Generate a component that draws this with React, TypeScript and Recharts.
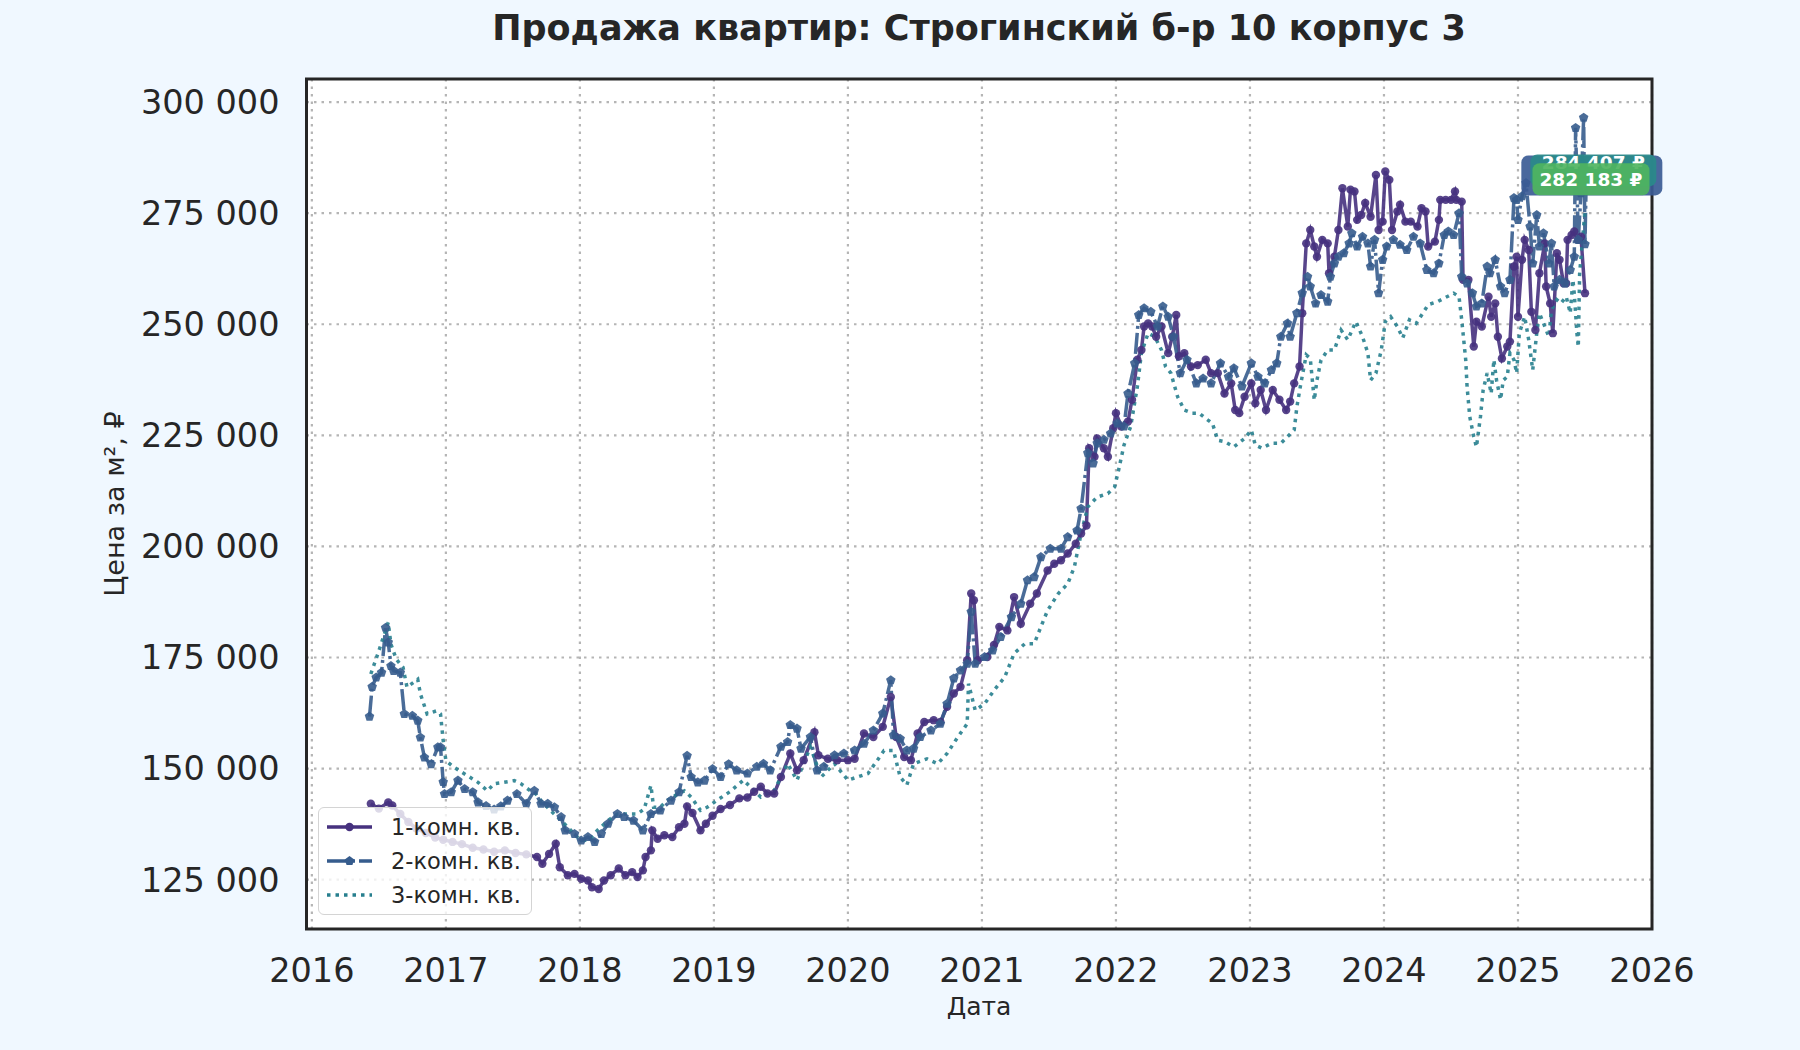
import {
  LineChart,
  Line,
  XAxis,
  YAxis,
  CartesianGrid,
  ReferenceArea,
  ReferenceDot,
} from "recharts";

// [decimal year, price per m²]
const ROOM1: [number, number][] = [
  [2016.44, 142100], [2016.5, 141000], [2016.57, 142400], [2016.6, 141700], [2016.66, 139800], [2016.72, 138000], [2016.78, 136500], [2016.85, 135500], [2016.92, 134500], [2016.98, 134000],
  [2017.05, 133500], [2017.12, 133000], [2017.2, 132200], [2017.28, 131800], [2017.36, 131300], [2017.44, 131600], [2017.52, 131000], [2017.6, 130700], [2017.68, 130100], [2017.72, 128600], [2017.77, 130800], [2017.82, 133100], [2017.85, 127800], [2017.91, 126000], [2017.96, 126300],
  [2018.01, 125200], [2018.06, 124800], [2018.09, 123300], [2018.14, 122900], [2018.18, 124800], [2018.23, 126000], [2018.29, 127500], [2018.34, 126000], [2018.39, 126700], [2018.43, 125600], [2018.47, 127100], [2018.49, 130100], [2018.53, 131600], [2018.54, 136100], [2018.58, 134200], [2018.63, 135000], [2018.69, 134600], [2018.74, 136800], [2018.78, 137600], [2018.8, 141500], [2018.84, 140000], [2018.9, 136100], [2018.94, 137600], [2018.99, 139400],
  [2019.05, 140900], [2019.12, 141800], [2019.19, 143300], [2019.25, 143500], [2019.3, 144800], [2019.35, 145900], [2019.4, 144400], [2019.45, 144400], [2019.5, 148100], [2019.57, 153400], [2019.62, 149600], [2019.67, 151900], [2019.75, 158200], [2019.78, 153000], [2019.85, 152200], [2019.92, 151900],
  [2020.0, 151900], [2020.05, 152200], [2020.12, 157900], [2020.19, 157100], [2020.26, 159400], [2020.32, 166100], [2020.36, 157100], [2020.42, 152600], [2020.47, 151900], [2020.52, 157900], [2020.57, 160500], [2020.64, 160900], [2020.69, 160500], [2020.74, 163900], [2020.79, 166900], [2020.84, 168400], [2020.89, 174400], [2020.92, 189400], [2020.94, 187900], [2020.97, 174400],
  [2021.04, 175100], [2021.09, 177800], [2021.13, 181900], [2021.19, 181100], [2021.24, 188600], [2021.29, 182600], [2021.36, 187100], [2021.41, 189400], [2021.49, 194600], [2021.54, 196100], [2021.59, 196900], [2021.64, 198400], [2021.7, 200600], [2021.74, 202900], [2021.78, 204700], [2021.8, 222100], [2021.84, 220200], [2021.86, 224300], [2021.91, 222100], [2021.94, 220200], [2021.98, 226600],
  [2022.0, 230000], [2022.04, 227000], [2022.09, 228100], [2022.12, 233000], [2022.16, 242000], [2022.19, 244200], [2022.21, 249500], [2022.24, 250200], [2022.27, 249500], [2022.3, 247200], [2022.34, 249500], [2022.39, 243500], [2022.42, 247200], [2022.45, 252100], [2022.47, 242800], [2022.51, 243500], [2022.56, 240500], [2022.61, 240800], [2022.67, 242000], [2022.71, 239000], [2022.76, 239000], [2022.81, 234400], [2022.86, 236700], [2022.89, 230700], [2022.92, 230000], [2022.96, 233700],
  [2023.01, 236700], [2023.04, 232200], [2023.08, 235200], [2023.12, 230700], [2023.17, 235200], [2023.22, 233000], [2023.27, 230700], [2023.3, 232600], [2023.33, 236700], [2023.37, 240500], [2023.39, 252500], [2023.42, 268200], [2023.45, 271200], [2023.48, 267500], [2023.5, 265200], [2023.54, 269000], [2023.58, 268200], [2023.59, 261500], [2023.63, 265200], [2023.66, 271200], [2023.69, 280600], [2023.73, 272000], [2023.75, 280300], [2023.78, 279900], [2023.8, 273500], [2023.83, 274600], [2023.86, 277300], [2023.9, 274200], [2023.94, 283600], [2023.96, 271200], [2023.99, 273100],
  [2024.01, 284400], [2024.04, 282500], [2024.06, 271200], [2024.1, 275400], [2024.12, 276900], [2024.16, 273100], [2024.2, 273100], [2024.25, 272000], [2024.28, 276100], [2024.31, 275400], [2024.33, 267500], [2024.38, 268600], [2024.41, 273500], [2024.42, 278000], [2024.46, 278000], [2024.5, 278000], [2024.53, 279900], [2024.54, 278000], [2024.58, 277600], [2024.59, 260000], [2024.63, 260000], [2024.67, 245000], [2024.69, 250600], [2024.73, 249500], [2024.78, 256200], [2024.8, 251700], [2024.83, 254700], [2024.85, 247200], [2024.88, 242300], [2024.92, 245000], [2024.94, 246100], [2024.97, 263000], [2024.99, 265200],
  [2025.0, 251700], [2025.03, 264500], [2025.05, 269000], [2025.08, 266700], [2025.1, 252800], [2025.13, 248700], [2025.16, 261500], [2025.2, 268200], [2025.21, 258500], [2025.24, 254700], [2025.26, 248000], [2025.29, 266000], [2025.31, 264500], [2025.34, 259200], [2025.36, 259200], [2025.37, 269000], [2025.4, 270100], [2025.42, 270900], [2025.45, 269000], [2025.47, 269700], [2025.5, 257000],
];

const ROOM2: [number, number][] = [
  [2016.43, 161700], [2016.45, 168400], [2016.48, 170500], [2016.52, 171600], [2016.55, 181700], [2016.57, 178400], [2016.59, 173100], [2016.61, 172000], [2016.66, 171600], [2016.69, 162300], [2016.75, 161900], [2016.79, 160800], [2016.81, 157000], [2016.84, 152500], [2016.89, 151000], [2016.94, 154800], [2016.96, 154800], [2016.98, 147000], [2016.99, 144300],
  [2017.04, 144700], [2017.09, 147300], [2017.14, 145400], [2017.2, 144700], [2017.24, 142400], [2017.3, 141600], [2017.36, 140800], [2017.41, 141500], [2017.46, 142800], [2017.53, 144300], [2017.6, 142100], [2017.66, 145000], [2017.71, 142100], [2017.76, 142100], [2017.81, 141300], [2017.86, 139100], [2017.89, 136100], [2017.96, 135300],
  [2018.01, 133800], [2018.06, 134600], [2018.11, 133500], [2018.16, 135300], [2018.21, 137600], [2018.28, 139800], [2018.33, 139100], [2018.4, 138300], [2018.47, 136100], [2018.53, 139800], [2018.6, 140600], [2018.68, 142800], [2018.74, 144700], [2018.8, 152900], [2018.83, 148100], [2018.88, 146900], [2018.93, 147300], [2018.99, 149900],
  [2019.05, 148100], [2019.11, 151000], [2019.17, 149600], [2019.25, 148900], [2019.32, 150400], [2019.37, 151100], [2019.42, 149600], [2019.5, 154900], [2019.55, 156000], [2019.57, 159800], [2019.62, 159000], [2019.65, 154500], [2019.72, 157100], [2019.77, 149600], [2019.82, 150400], [2019.9, 153000], [2019.97, 153400],
  [2020.05, 154100], [2020.12, 155600], [2020.19, 158600], [2020.26, 162400], [2020.32, 169900], [2020.34, 157500], [2020.39, 156700], [2020.44, 154100], [2020.49, 154500], [2020.54, 157100], [2020.62, 158600], [2020.69, 160100], [2020.74, 164600], [2020.79, 170300], [2020.84, 172100], [2020.89, 173600], [2020.92, 185300], [2020.95, 173600],
  [2021.02, 175100], [2021.08, 176600], [2021.14, 179600], [2021.22, 184100], [2021.29, 187100], [2021.34, 192400], [2021.39, 193100], [2021.44, 197600], [2021.51, 199500], [2021.59, 199500], [2021.64, 202100], [2021.71, 203600], [2021.74, 208500], [2021.79, 221000], [2021.83, 218700], [2021.86, 223200], [2021.91, 224000], [2021.96, 225400],
  [2022.01, 227700], [2022.06, 227000], [2022.09, 234400], [2022.14, 241200], [2022.17, 252100], [2022.21, 253600], [2022.26, 252800], [2022.31, 249500], [2022.35, 254000], [2022.39, 251700], [2022.43, 247200], [2022.48, 239000], [2022.53, 242000], [2022.6, 236700], [2022.65, 237800], [2022.71, 236700], [2022.78, 241200], [2022.84, 238200], [2022.88, 240100], [2022.94, 236000],
  [2023.01, 241200], [2023.06, 238200], [2023.11, 236700], [2023.16, 239700], [2023.2, 241200], [2023.23, 247200], [2023.28, 250200], [2023.3, 247200], [2023.35, 252500], [2023.39, 257000], [2023.43, 260700], [2023.45, 258500], [2023.49, 254700], [2023.53, 256600], [2023.58, 255100], [2023.6, 260700], [2023.63, 263700], [2023.66, 265200], [2023.7, 266000], [2023.74, 268200], [2023.76, 270500], [2023.8, 267500], [2023.84, 269700], [2023.88, 268200], [2023.9, 263000], [2023.93, 269000], [2023.96, 257000], [2023.99, 264500],
  [2024.02, 267500], [2024.07, 269000], [2024.12, 267900], [2024.17, 266700], [2024.22, 269700], [2024.27, 268200], [2024.32, 262200], [2024.37, 261500], [2024.41, 263700], [2024.45, 270100], [2024.48, 270900], [2024.52, 270100], [2024.56, 275000], [2024.58, 260700], [2024.62, 259200], [2024.66, 257000], [2024.69, 254000], [2024.73, 254700], [2024.77, 263000], [2024.79, 261500], [2024.83, 264500], [2024.87, 258500], [2024.9, 257000], [2024.94, 260000], [2024.97, 278400], [2024.99, 278000],
  [2025.0, 273500], [2025.03, 278800], [2025.06, 281800], [2025.09, 272000], [2025.11, 263700], [2025.14, 274600], [2025.16, 267500], [2025.19, 270500], [2025.23, 263700], [2025.25, 268200], [2025.27, 258500], [2025.31, 260000], [2025.35, 259200], [2025.39, 262200], [2025.42, 265200], [2025.43, 294200], [2025.45, 269000], [2025.47, 279500], [2025.49, 296500], [2025.5, 268000], [2025.51, 284407],
];

const ROOM3: [number, number][] = [
  [2016.44, 171300], [2016.5, 176500], [2016.54, 180200], [2016.57, 182900], [2016.59, 178000], [2016.63, 174600], [2016.68, 172800], [2016.71, 168300], [2016.79, 170100], [2016.81, 166800], [2016.86, 162300], [2016.93, 163000], [2016.96, 162300], [2016.98, 156300],
  [2017.0, 151800], [2017.06, 150300], [2017.14, 148800], [2017.24, 146900], [2017.31, 145000], [2017.36, 146600], [2017.43, 146900], [2017.51, 147300], [2017.56, 146600], [2017.63, 145000], [2017.66, 144700], [2017.71, 142800], [2017.78, 140600], [2017.86, 138300], [2017.91, 136800], [2017.98, 134600],
  [2018.03, 133800], [2018.08, 134200], [2018.13, 136100], [2018.21, 138300], [2018.28, 139800], [2018.36, 139800], [2018.43, 139800], [2018.48, 140900], [2018.53, 146200], [2018.55, 141300], [2018.6, 141300], [2018.65, 142800], [2018.73, 144300], [2018.78, 145000], [2018.83, 143600], [2018.9, 140600], [2018.95, 141300],
  [2019.02, 142800], [2019.12, 144800], [2019.22, 147400], [2019.35, 143600], [2019.45, 145100], [2019.55, 151100], [2019.62, 147400], [2019.72, 154900], [2019.8, 148100], [2019.9, 151100],
  [2020.0, 147400], [2020.07, 148100], [2020.15, 148900], [2020.22, 151900], [2020.27, 154100], [2020.34, 154100], [2020.39, 148100], [2020.44, 146300], [2020.49, 151100], [2020.59, 152200], [2020.67, 151100], [2020.74, 153400], [2020.82, 157100], [2020.89, 160100], [2020.9, 169100], [2020.95, 163100],
  [2021.02, 164600], [2021.09, 167600], [2021.17, 170600], [2021.24, 175900], [2021.32, 178100], [2021.39, 178100], [2021.44, 181900], [2021.49, 185600], [2021.57, 189400], [2021.64, 191600], [2021.69, 195400], [2021.74, 202900], [2021.79, 208900], [2021.86, 211100], [2021.94, 211900], [2021.99, 213400],
  [2022.02, 217200], [2022.06, 222800], [2022.11, 227000], [2022.16, 236000], [2022.19, 243500], [2022.24, 248000], [2022.29, 247200], [2022.34, 244200], [2022.37, 240500], [2022.41, 239000], [2022.46, 233700], [2022.51, 230700], [2022.57, 230000], [2022.62, 230000], [2022.67, 228800], [2022.72, 227700], [2022.76, 223900], [2022.81, 223600], [2022.88, 222400], [2022.96, 224300],
  [2023.01, 226200], [2023.04, 222800], [2023.09, 222100], [2023.16, 223200], [2023.23, 223200], [2023.28, 224700], [2023.33, 226200], [2023.35, 231400], [2023.38, 236700], [2023.42, 243100], [2023.45, 242300], [2023.48, 232900], [2023.5, 237400], [2023.53, 241900], [2023.58, 244200], [2023.63, 244200], [2023.68, 248700], [2023.73, 246500], [2023.79, 250600], [2023.84, 247200], [2023.88, 243500], [2023.9, 237400], [2023.94, 239000], [2023.98, 244200],
  [2024.01, 250600], [2024.05, 251700], [2024.1, 249500], [2024.14, 246900], [2024.19, 251000], [2024.24, 250200], [2024.29, 252500], [2024.33, 254400], [2024.4, 255100], [2024.47, 256200], [2024.52, 257000], [2024.56, 256200], [2024.58, 251000], [2024.61, 242000], [2024.62, 236000], [2024.64, 229200], [2024.67, 224700], [2024.69, 222400], [2024.72, 229200], [2024.74, 235200], [2024.77, 239000], [2024.8, 234400], [2024.82, 242000], [2024.84, 237400], [2024.87, 233000], [2024.89, 237400], [2024.92, 238200], [2024.94, 243500], [2024.97, 242000], [2024.99, 239000],
  [2025.01, 248000], [2025.05, 251700], [2025.08, 246500], [2025.11, 239700], [2025.14, 248000], [2025.16, 252500], [2025.2, 249500], [2025.23, 247200], [2025.25, 253200], [2025.29, 255500], [2025.32, 254700], [2025.36, 256200], [2025.39, 252500], [2025.41, 260000], [2025.42, 256900], [2025.44, 247900], [2025.45, 244900], [2025.46, 261400], [2025.49, 272000], [2025.5, 275800],
];

const YEAR_TICKS = [2016, 2017, 2018, 2019, 2020, 2021, 2022, 2023, 2024, 2025, 2026];
const PRICE_TICKS = [125000, 150000, 175000, 200000, 225000, 250000, 275000, 300000];
const X_DOMAIN = [2015.96, 2026.0];
const Y_DOMAIN = [113900, 305200];

const SERIES_NAMES = ["1-комн. кв.", "2-комн. кв.", "3-комн. кв."];
const LAST_PRICE_1 = 282183;
const LAST_PRICE_2 = 284407;

const C1 = "#46317e";
const C2 = "#365c8d";
const C3 = "#277f8e";
const TEXT = "#262626";
const FONT = "DejaVu Sans";

const toPoints = (rows: [number, number][]) => rows.map(([x, y]) => ({ x, y }));
const room1 = toPoints(ROOM1);
const room2 = toPoints(ROOM2);
const room3 = toPoints(ROOM3);

const formatPrice = (v: number) =>
  `${Math.floor(v / 1000)} ${String(v % 1000).padStart(3, "0")}`;

const circleDot = (props: any) => {
  const { cx, cy, index } = props;
  if (cx == null || cy == null) return <g key={index} />;
  return <circle key={index} cx={cx} cy={cy} r={4.2} fill={C1} fillOpacity={0.9} />;
};

const pentagonPath = (cx: number, cy: number, r: number) =>
  [0, 1, 2, 3, 4]
    .map((i) => {
      const a = ((-90 + 72 * i) * Math.PI) / 180;
      return `${i === 0 ? "M" : "L"}${cx + r * Math.cos(a)},${cy + r * Math.sin(a)}`;
    })
    .join(" ") + "Z";

const pentagonDot = (props: any) => {
  const { cx, cy, index } = props;
  if (cx == null || cy == null) return <g key={index} />;
  return <path key={index} d={pentagonPath(cx, cy, 5)} fill={C2} fillOpacity={0.9} />;
};

// price label box drawn at the series' last date
const makeBadge =
  (fill: string, w: number, h: number, dx: number, dy: number, text: string, textDy: number) =>
  (props: any) => {
    const { cx, cy } = props;
    if (cx == null || cy == null) return <g />;
    const x = cx + dx;
    const y = cy + dy;
    return (
      <g>
        <rect x={x - w / 2} y={y - h / 2} width={w} height={h} rx={7} fill={fill} fillOpacity={0.92} />
        {text && (
          <text
            x={x}
            y={y + textDy}
            textAnchor="middle"
            dominantBaseline="central"
            fill="#ffffff"
            fontFamily={FONT}
            fontWeight="bold"
            fontSize={18.5}
          >
            {text}
          </text>
        )}
      </g>
    );
  };

const LegendBox = () => (
  <div
    style={{
      position: "absolute",
      left: 318,
      top: 807,
      width: 214,
      height: 108,
      background: "rgba(255,255,255,0.8)",
      border: "1.5px solid #d4d4d4",
      borderRadius: 6,
      boxSizing: "border-box",
      fontFamily: FONT,
      fontSize: 22.5,
      color: TEXT,
    }}
  >
    <svg width={211} height={105} style={{ display: "block" }}>
      <g>
        <line x1={8} x2={53} y1={19} y2={19} stroke={C1} strokeWidth={3.5} />
        <circle cx={30.5} cy={19} r={4.2} fill={C1} />
        <text x={72} y={19} dominantBaseline="central" fill={TEXT}>{SERIES_NAMES[0]}</text>
      </g>
      <g>
        <line x1={8} x2={53} y1={53} y2={53} stroke={C2} strokeWidth={3.5} strokeDasharray="21 4 3 4" />
        <path d={pentagonPath(30.5, 53, 5)} fill={C2} />
        <text x={72} y={53} dominantBaseline="central" fill={TEXT}>{SERIES_NAMES[1]}</text>
      </g>
      <g>
        <line x1={8} x2={53} y1={87} y2={87} stroke={C3} strokeWidth={3.5} strokeDasharray="3.5 5" />
        <text x={72} y={87} dominantBaseline="central" fill={TEXT}>{SERIES_NAMES[2]}</text>
      </g>
    </svg>
  </div>
);

const App = () => {
  const lastX2 = ROOM2[ROOM2.length - 1][0];
  const lastX1 = ROOM1[ROOM1.length - 1][0];
  return (
    <div
      style={{
        position: "absolute",
        left: 0,
        top: 0,
        width: 1800,
        height: 1050,
        background: "#f0f8ff",
        fontFamily: FONT,
        overflow: "hidden",
      }}
    >
      <div
        style={{
          position: "absolute",
          left: 979,
          top: 9,
          transform: "translateX(-50%)",
          whiteSpace: "nowrap",
          fontSize: 35,
          fontWeight: "bold",
          lineHeight: "38px",
          color: TEXT,
        }}
      >
        Продажа квартир: Строгинский б-р 10 корпус 3
      </div>
      <div
        style={{
          position: "absolute",
          left: 979,
          top: 993,
          transform: "translateX(-50%)",
          whiteSpace: "nowrap",
          fontSize: 25,
          lineHeight: "28px",
          color: TEXT,
        }}
      >
        Дата
      </div>
      <div
        style={{
          position: "absolute",
          left: 115,
          top: 504,
          transform: "translate(-50%, -50%) rotate(-90deg)",
          whiteSpace: "nowrap",
          fontSize: 27,
          lineHeight: "30px",
          color: TEXT,
        }}
      >
        Цена за м², ₽
      </div>
      <div style={{ position: "absolute", left: 0, top: 0 }}>
        <LineChart
          width={1800}
          height={1050}
          margin={{ top: 79, right: 148, bottom: 61, left: 186.5 }}
        >
          <CartesianGrid
            fill="#ffffff"
            stroke="#b5b5b5"
            strokeWidth={2.2}
            strokeDasharray="2.5 5"
          />
          <XAxis
            type="number"
            dataKey="x"
            domain={X_DOMAIN}
            ticks={YEAR_TICKS}
            allowDataOverflow
            tickFormatter={(v) => String(v)}
            axisLine={false}
            tickLine={false}
            tickSize={0}
            tickMargin={29}
            height={60}
            tick={{ fontSize: 33.5, fill: TEXT, fontFamily: FONT }}
          />
          <YAxis
            type="number"
            dataKey="y"
            domain={Y_DOMAIN}
            ticks={PRICE_TICKS}
            allowDataOverflow
            tickFormatter={formatPrice}
            axisLine={false}
            tickLine={false}
            tickSize={0}
            tickMargin={27}
            width={120}
            tick={{ fontSize: 33.5, fill: TEXT, fontFamily: FONT }}
          />
          <Line
            data={room1}
            dataKey="y"
            name={SERIES_NAMES[0]}
            type="linear"
            stroke={C1}
            strokeOpacity={0.9}
            strokeWidth={3.5}
            dot={circleDot}
            activeDot={false}
            isAnimationActive={false}
          />
          <Line
            data={room2}
            dataKey="y"
            name={SERIES_NAMES[1]}
            type="linear"
            stroke={C2}
            strokeOpacity={0.9}
            strokeWidth={3.5}
            strokeDasharray="21 4 3 4"
            dot={pentagonDot}
            activeDot={false}
            isAnimationActive={false}
          />
          <Line
            data={room3}
            dataKey="y"
            name={SERIES_NAMES[2]}
            type="linear"
            stroke={C3}
            strokeOpacity={0.9}
            strokeWidth={3.5}
            strokeDasharray="3.5 5"
            dot={false}
            activeDot={false}
            isAnimationActive={false}
          />
          <ReferenceArea
            x1={X_DOMAIN[0]}
            x2={X_DOMAIN[1]}
            y1={Y_DOMAIN[0]}
            y2={Y_DOMAIN[1]}
            fill="none"
            stroke="#262626"
            strokeWidth={3}
            ifOverflow="visible"
          />
          <ReferenceDot
            x={lastX2}
            y={LAST_PRICE_2}
            ifOverflow="visible"
            shape={makeBadge("#3b5b95", 141, 40, 5.5, 4, "", 0)}
          />
          <ReferenceDot
            x={lastX2}
            y={LAST_PRICE_2}
            ifOverflow="visible"
            shape={makeBadge("#2a8a8a", 126, 32, 7, -1, `${formatPrice(LAST_PRICE_2)} ₽`, -8)}
          />
          <ReferenceDot
            x={lastX1}
            y={LAST_PRICE_1}
            ifOverflow="visible"
            shape={makeBadge("#4fb45f", 117, 32, 6, -2, `${formatPrice(LAST_PRICE_1)} ₽`, 0)}
          />
        </LineChart>
      </div>
      <LegendBox />
    </div>
  );
};

export default App;
